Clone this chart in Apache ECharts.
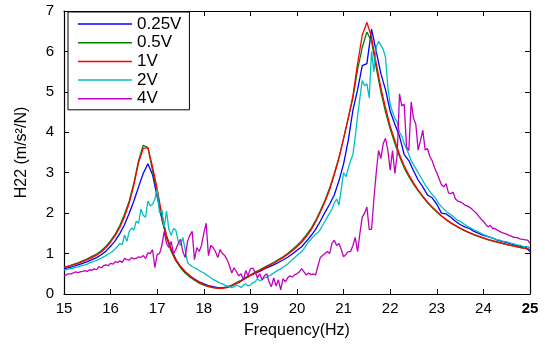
<!DOCTYPE html>
<html>
<head>
<meta charset="utf-8">
<script src="https://cdn.jsdelivr.net/npm/echarts@6/dist/echarts.min.js"></script>
<style>
html,body{margin:0;padding:0;background:#fff;}
#chart{width:545px;height:349px;}
</style>
</head>
<body>
<div id="chart"></div>
<script>
// Sampling grids (Hz)
const freqCoarse = []; for (let i = 0; i <= 100; i++) freqCoarse.push(+(15 + i * 0.1).toFixed(2));
const freqFine = []; for (let i = 0; i <= 200; i++) freqFine.push(+(15 + i * 0.05).toFixed(2));

const seriesNames = ['0.25V', '0.5V', '1V', '2V', '4V'];
const xTicks = [15, 16, 17, 18, 19, 20, 21, 22, 23, 24, 25];
const yTicks = [0, 1, 2, 3, 4, 5, 6, 7];

// 0.25V (step 0.1 Hz)
const v025 = [
  0.62,0.65,0.68,0.72,0.76,0.80,0.85,0.90,0.97,1.06,
  1.18,1.32,1.50,1.72,2.00,2.30,2.65,2.98,3.22,2.95,
  2.40,1.85,1.42,1.10,0.86,0.68,0.55,0.45,0.37,0.30,
  0.25,0.21,0.18,0.16,0.16,0.17,0.21,0.26,0.32,0.39,
  0.46,0.51,0.56,0.62,0.67,0.72,0.78,0.84,0.91,0.99,
  1.08,1.17,1.30,1.44,1.60,1.80,2.02,2.22,2.45,2.80,
  3.22,3.80,4.55,5.05,5.65,5.70,6.55,6.00,5.45,5.05,
  4.52,4.20,3.90,3.45,3.30,3.05,2.82,2.65,2.45,2.38,
  2.22,2.00,1.98,1.90,1.80,1.72,1.66,1.62,1.55,1.50,
  1.45,1.42,1.38,1.33,1.30,1.27,1.24,1.21,1.18,1.17,
  1.05
];
// 0.5V (step 0.1 Hz)
const v05 = [
  0.65,0.69,0.73,0.77,0.82,0.87,0.93,0.99,1.07,1.18,
  1.32,1.48,1.70,1.98,2.30,2.75,3.30,3.68,3.62,3.05,
  2.50,1.88,1.40,1.05,0.82,0.65,0.52,0.42,0.34,0.27,
  0.22,0.18,0.16,0.15,0.15,0.17,0.22,0.28,0.34,0.41,
  0.47,0.54,0.60,0.66,0.72,0.78,0.85,0.92,1.00,1.10,
  1.20,1.32,1.46,1.62,1.82,2.06,2.32,2.62,2.98,3.38,
  3.85,4.35,4.85,5.55,6.10,6.48,6.25,5.60,5.00,4.50,
  4.08,3.72,3.40,3.12,2.90,2.72,2.55,2.40,2.26,2.14,
  2.03,1.93,1.84,1.76,1.69,1.62,1.56,1.51,1.46,1.42,
  1.38,1.34,1.31,1.28,1.25,1.22,1.20,1.17,1.15,1.13,
  1.10
];
// 1V (step 0.1 Hz)
const v1 = [
  0.66,0.69,0.72,0.76,0.80,0.85,0.90,0.96,1.04,1.15,
  1.28,1.45,1.65,1.92,2.25,2.70,3.25,3.60,3.62,3.15,
  2.60,1.95,1.45,1.10,0.85,0.68,0.55,0.45,0.36,0.29,
  0.23,0.19,0.16,0.14,0.14,0.16,0.20,0.26,0.32,0.39,
  0.46,0.52,0.58,0.64,0.70,0.76,0.83,0.90,0.98,1.07,
  1.17,1.28,1.42,1.58,1.78,2.02,2.28,2.58,2.95,3.35,
  3.85,4.35,4.90,5.70,6.40,6.72,6.35,5.70,5.10,4.60,
  4.15,3.80,3.45,3.17,2.95,2.75,2.57,2.42,2.28,2.15,
  2.04,1.93,1.84,1.76,1.69,1.63,1.57,1.52,1.47,1.43,
  1.39,1.35,1.32,1.29,1.26,1.23,1.20,1.18,1.15,1.13,
  1.10
];
// 2V (step 0.05 Hz)
const v2 = [
  0.59,0.60,0.62,0.63,0.64,0.66,0.67,0.69,0.71,0.72,0.74,0.77,0.79,0.81,0.83,0.86,0.89,0.92,0.95,0.99,
  1.02,1.06,1.12,1.18,1.25,1.22,1.46,1.30,1.55,1.63,1.58,1.80,1.75,2.10,1.95,1.90,2.30,2.18,2.22,2.35,
  2.60,2.00,2.08,1.66,2.05,1.60,1.45,1.62,1.58,1.30,1.20,1.40,1.10,0.78,0.72,0.68,0.65,0.62,0.58,0.55,
  0.52,0.48,0.44,0.40,0.36,0.33,0.30,0.27,0.25,0.22,0.20,0.18,0.16,0.18,0.22,0.20,0.16,0.22,0.25,0.20,
  0.22,0.28,0.30,0.38,0.33,0.35,0.40,0.42,0.45,0.48,0.52,0.56,0.59,0.62,0.66,0.70,0.74,0.80,0.85,0.90,
  0.95,1.00,1.05,1.12,1.20,1.30,1.35,1.42,1.48,1.52,1.60,1.70,1.80,1.90,2.00,2.10,2.25,2.35,2.20,2.60,
  3.00,2.90,3.10,3.30,3.45,3.90,4.40,4.85,5.28,5.15,5.20,4.85,6.00,5.50,6.10,6.25,6.15,6.05,5.85,5.10,
  4.70,4.50,4.35,4.25,4.00,3.90,3.72,3.60,3.45,3.30,3.20,3.10,3.00,2.90,2.80,2.70,2.62,2.54,2.46,2.40,
  2.32,2.22,2.16,2.10,2.05,2.00,1.96,1.92,1.87,1.82,1.80,1.76,1.72,1.68,1.65,1.62,1.58,1.56,1.53,1.50,
  1.47,1.45,1.42,1.40,1.38,1.36,1.34,1.33,1.31,1.30,1.29,1.27,1.25,1.24,1.22,1.21,1.20,1.18,1.17,1.17,
  1.14
];
// 4V (step 0.05 Hz)
const v4 = [
  0.45,0.48,0.50,0.50,0.52,0.55,0.53,0.55,0.56,0.58,0.56,0.60,0.59,0.62,0.60,0.68,0.65,0.70,0.72,0.70,
  0.76,0.74,0.80,0.78,0.82,0.78,0.88,0.85,0.84,0.90,0.87,0.88,0.92,0.90,0.95,0.88,1.02,1.00,1.10,0.65,
  0.98,1.00,1.20,1.55,1.25,1.15,1.30,1.00,1.10,1.25,1.35,1.05,0.90,1.30,1.45,1.55,0.85,1.15,1.05,1.20,
  1.50,1.75,0.95,1.20,1.15,1.05,0.90,1.10,1.00,0.95,0.85,0.70,0.52,0.65,0.55,0.45,0.50,0.35,0.58,0.45,
  0.62,0.64,0.55,0.40,0.50,0.35,0.45,0.50,0.30,0.18,0.40,0.20,0.35,0.10,0.38,0.30,0.40,0.45,0.42,0.48,
  0.50,0.55,0.63,0.55,0.47,0.52,0.48,0.50,0.47,0.70,0.90,0.95,1.00,1.05,1.00,1.25,1.33,1.20,1.25,1.10,
  0.92,0.98,1.05,1.05,1.20,1.40,1.05,1.50,1.90,2.00,2.15,1.60,1.60,2.35,3.00,3.55,3.35,3.72,3.85,3.55,
  3.06,3.55,2.98,3.45,4.95,4.65,4.70,3.64,3.55,4.75,4.35,4.20,3.56,3.80,4.05,3.56,3.60,3.40,3.30,3.13,
  3.00,2.85,2.70,2.65,2.73,2.50,2.48,2.52,2.35,2.30,2.28,2.25,2.20,2.18,2.15,2.10,2.05,2.00,1.92,1.85,
  1.80,1.72,1.66,1.70,1.62,1.62,1.58,1.55,1.52,1.50,1.48,1.45,1.43,1.40,1.40,1.38,1.36,1.35,1.34,1.33,
  1.25
];

const seriesValues = [v025, v05, v1, v2, v4];
const seriesFreqs = [freqCoarse, freqCoarse, freqCoarse, freqFine, freqFine];
const colors = ['#0000ff', '#008000', '#ff0000', '#00bfbf', '#bf00bf'];

const FONT = 'Liberation Sans';
const chart = echarts.init(document.getElementById('chart'), null, {renderer: 'canvas'});

const baseX = {
  type: 'value', min: xTicks[0], max: xTicks[xTicks.length - 1], interval: 1,
  splitLine: {show: false},
  axisLine: {show: true, onZero: false, lineStyle: {color: '#000', width: 1.2}},
  axisTick: {show: true, inside: true, length: 5, lineStyle: {color: '#000', width: 1}},
};
const baseY = {
  type: 'value', min: yTicks[0], max: yTicks[yTicks.length - 1], interval: 1,
  splitLine: {show: false},
  axisLine: {show: true, onZero: false, lineStyle: {color: '#000', width: 1.2}},
  axisTick: {show: true, inside: true, length: 5, lineStyle: {color: '#000', width: 1}},
};

chart.setOption({
  animation: false,
  backgroundColor: '#fff',
  textStyle: {fontFamily: FONT},
  color: colors,
  grid: {left: 64, right: 15, top: 11, bottom: 55, containLabel: false},
  legend: {
    data: seriesNames.map(n => ({name: n, icon: 'rect'})),
    orient: 'vertical',
    left: 68, top: 12,
    itemWidth: 54, itemHeight: 1.5, itemGap: 1.7,
    padding: [3.5, 8, 2.5, 10],
    borderColor: '#000', borderWidth: 1, backgroundColor: '#fff',
    textStyle: {fontFamily: FONT, fontSize: 17, color: '#000'},
    z: 10
  },
  xAxis: [
    Object.assign({}, baseX, {
      position: 'bottom',
      axisLabel: {
        show: true, color: '#000', fontSize: 15, fontFamily: FONT, margin: 7,
        formatter: v => v === xTicks[xTicks.length - 1] ? '{b|' + v + '}' : String(v),
        rich: {b: {fontSize: 15, fontWeight: 'bold', fontFamily: FONT, color: '#000'}}
      },
      name: 'Frequency(Hz)', nameLocation: 'middle', nameGap: 29,
      nameTextStyle: {color: '#000', fontSize: 16, fontFamily: FONT}
    }),
    Object.assign({}, baseX, {position: 'top', axisLabel: {show: false}})
  ],
  yAxis: [
    Object.assign({}, baseY, {
      position: 'left',
      axisLabel: {show: true, color: '#000', fontSize: 15, fontFamily: FONT, margin: 10},
      name: 'H22 (m/s\u00b2/N)', nameLocation: 'middle', nameGap: 34,
      nameTextStyle: {color: '#000', fontSize: 16, fontFamily: FONT}
    }),
    Object.assign({}, baseY, {position: 'right', axisLabel: {show: false}})
  ],
  series: seriesNames.map((name, k) => ({
    name: name,
    type: 'line',
    xAxisIndex: 0, yAxisIndex: 0,
    showSymbol: false, symbol: 'none',
    lineStyle: {color: colors[k], width: 1.3},
    itemStyle: {color: colors[k]},
    data: seriesFreqs[k].map((f, i) => [f, seriesValues[k][i]])
  }))
});
</script>
</body>
</html>
